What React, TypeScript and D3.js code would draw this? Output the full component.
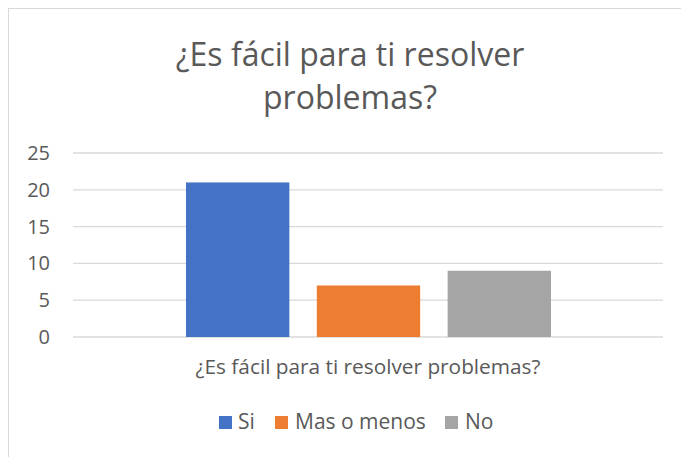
import React from "react";
import * as d3 from "d3";

const titleLines = ["¿Es fácil para ti resolver", "problemas?"];
const categoryLabel = "¿Es fácil para ti resolver problemas?";
const series = ["Si", "Mas o menos", "No"];
const values = [21, 7, 9];
const colors = ["#4472C4", "#ED7D31", "#A5A5A5"];
const yTicks = [0, 5, 10, 15, 20, 25];

const W = 681;
const H = 457;
const FONT = "'Open Sans', sans-serif";
const TXT = "#595959";

export default function App() {
  const plotLeft = 73;
  const plotRight = 663;
  const y = d3.scaleLinear().domain([0, 25]).range([337, 153]);
  const x = d3
    .scaleBand<string>()
    .domain(series)
    .range([186, 551])
    .paddingInner(0.21)
    .paddingOuter(0);

  const legendItems = [
    { x: 219, tx: 238 },
    { x: 275, tx: 295 },
    { x: 445, tx: 465 },
  ];

  return (
    <svg
      width={W}
      height={H}
      style={{ position: "absolute", left: 0, top: 0, background: "#fff" }}
    >
      <rect x={0} y={0} width={W} height={H} fill="#fff" />
      <rect x={8.5} y={8.5} width={720} height={480} fill="none" stroke="#d9d9d9" strokeWidth={1} />
      {titleLines.map((t, i) => (
        <text
          key={i}
          x={350}
          y={i === 0 ? 66 : 109}
          textAnchor="middle"
          fontFamily={FONT}
          fontSize={32}
          fill={TXT}
        >
          {t}
        </text>
      ))}
      {yTicks.map((t) => (
        <g key={t}>
          <line
            x1={plotLeft}
            x2={plotRight}
            y1={y(t)}
            y2={y(t)}
            stroke="#d9d9d9"
            strokeWidth={1.3}
          />
          <text
            x={50}
            y={y(t)}
            dy="0.35em"
            textAnchor="end"
            fontFamily={FONT}
            fontSize={20}
            fill={TXT}
          >
            {t}
          </text>
        </g>
      ))}
      {series.map((s, i) => (
        <rect
          key={s}
          x={x(s)}
          width={x.bandwidth()}
          y={y(values[i])}
          height={y(0) - y(values[i])}
          fill={colors[i]}
        />
      ))}
      <text
        x={368}
        y={374}
        textAnchor="middle"
        fontFamily={FONT}
        fontSize={20.8}
        fill={TXT}
      >
        {categoryLabel}
      </text>
      {series.map((s, i) => (
        <g key={s}>
          <rect x={legendItems[i].x} y={416} width={13} height={13} fill={colors[i]} />
          <text x={legendItems[i].tx} y={429} fontFamily={FONT} fontSize={21} fill={TXT}>
            {s}
          </text>
        </g>
      ))}
    </svg>
  );
}
